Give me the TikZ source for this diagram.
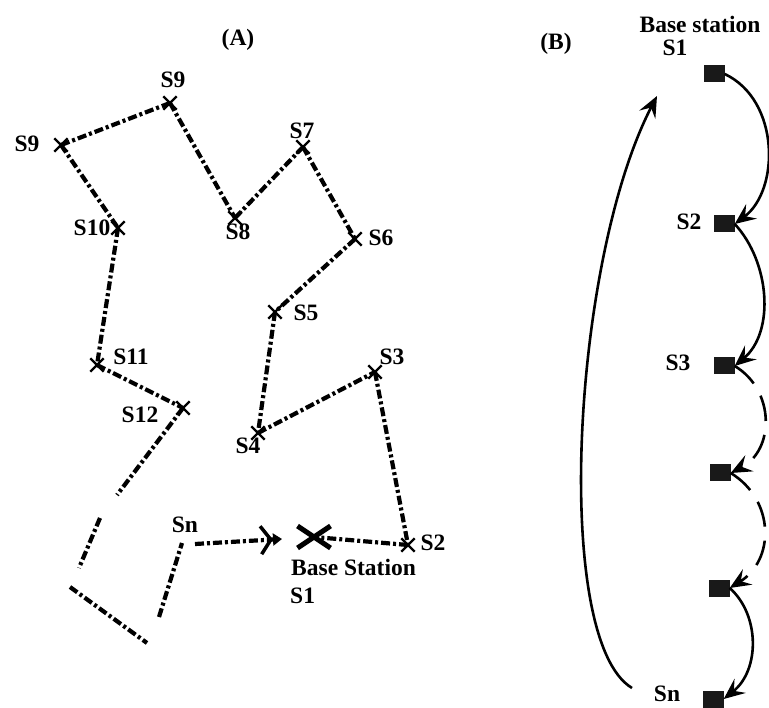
\documentclass[tikz,border=0pt]{standalone}
\usepackage{fontspec}
\setmainfont{Liberation Serif}
\usetikzlibrary{arrows.meta,shapes.misc}
\begin{document}
\begin{tikzpicture}[x=1pt,y=-1pt,
  lbl/.style={font=\fontsize{23.5}{25}\selectfont\bfseries, inner sep=0pt},
  xmark/.style={draw, cross out, minimum size=11pt, inner sep=0pt, line width=2.4pt},
  route/.style={line width=4.2pt, dash pattern=on 9pt off 3pt on 3pt off 3pt},
  sq/.style={fill=black!90, minimum width=21pt, minimum height=17pt, inner sep=0pt},
  link/.style={line width=2.6pt, -{Stealth[length=21pt,width=18pt,inset=8pt]}},
  dlink/.style={link, dash pattern=on 26pt off 14pt},
]
\useasboundingbox (0,0) rectangle (769,708);
% ---------------- Panel A ----------------
\node[lbl] (tA) at (238,40) {(A)};
\node[xmark] (p9t) at (170,103) {};
\node[xmark] (p9l) at (61,145) {};
\node[xmark] (p10) at (118,228) {};
\node[xmark] (p8)  at (235,218) {};
\node[xmark] (p7)  at (303,147) {};
\node[xmark] (p6)  at (355,239) {};
\node[xmark] (p5)  at (275,312) {};
\node[xmark] (p11) at (97,365) {};
\node[xmark] (p12) at (183,408) {};
\node[xmark] (p3)  at (375,372) {};
\node[xmark] (p4)  at (258,433) {};
\node[xmark] (p2)  at (408,545) {};
\node[draw, cross out, minimum width=28pt, minimum height=17pt, inner sep=0pt, line width=5pt] (bs) at (314,537) {};

\node[lbl] (l9t) at (173,80) {S9};
\node[lbl] (l9l) at (27,144) {S9};
\node[lbl] (l10) at (92,228) {S10};
\node[lbl] (l8)  at (238,232) {S8};
\node[lbl] (l7)  at (302,131) {S7};
\node[lbl] (l6)  at (381,238) {S6};
\node[lbl] (l5)  at (306,313) {S5};
\node[lbl] (l11) at (131,357) {S11};
\node[lbl] (l12) at (140,415) {S12};
\node[lbl] (l3)  at (392,357) {S3};
\node[lbl] (l4)  at (248,446) {S4};
\node[lbl] (l2)  at (433,543) {S2};
\node[lbl] (lsn) at (185,525) {Sn};
\node[lbl, anchor=west] (lbs) at (291,567) {Base Station};
\node[lbl, anchor=west] (ls1) at (290,596) {S1};

\draw[route] (p9l.center) -- (p9t.center);
\draw[route] (p9t.center) -- (p8.center);
\draw[route] (p8.center) -- (p7.center);
\draw[route] (p7.center) -- (p6.center);
\draw[route] (p6.center) -- (p5.center);
\draw[route] (p5.center) -- (p4.center);
\draw[route] (p4.center) -- (p3.center);
\draw[route] (p3.center) -- (p2.center);
\draw[route] (p2.center) -- (bs.center);
\draw[route] (p9l.center) -- (p10.center);
\draw[route] (p10.center) -- (p11.center);
\draw[route] (p11.center) -- (p12.center);
\coordinate (e1) at (117,495);
\draw[route] (p12.center) -- (e1);
\coordinate (f1) at (100,518);
\coordinate (f2) at (79,568);
\draw[route] (f1) -- (f2);
\coordinate (g1) at (70,587);
\coordinate (g2) at (147,643);
\draw[route] (g1) -- (g2);
\coordinate (h1) at (159,617);
\coordinate (h2) at (182,543);
\draw[route] (h1) -- (h2);
\coordinate (sna) at (195,544);
\coordinate (snb) at (282,539);
\draw[route, -{Straight Barb[length=10pt,width=28pt,line width=3.5pt] Triangle[length=9pt,width=12pt]}] (sna) -- (snb);

% ---------------- Panel B ----------------
\node[lbl] (tB) at (556,44) {(B)};
\node[lbl] (bst) at (700,24) {Base station};
\node[lbl] (bs1) at (675,48) {S1};
\node[sq] (b1) at (714,74) {};
\node[sq] (b2) at (724,224) {};
\node[sq] (b3) at (724,366) {};
\node[sq] (b4) at (720,473) {};
\node[sq] (b5) at (719,588) {};
\node[sq] (bn) at (713,699) {};
\node[lbl] (lb2) at (689,222) {S2};
\node[lbl] (lb3) at (678,363) {S3};
\node[lbl] (lbn) at (667,694) {Sn};

\draw[link] (b1.east) .. controls (780,100) and (780,190) .. (b2.east);
\draw[link] (b2.east) .. controls (770,262) and (775,332) .. (b3.east);
\draw[dlink] (b3.east) .. controls (775,390) and (775,450) .. (b4.east);
\draw[dlink] (b4.east) .. controls (775,500) and (775,560) .. (b5.east);
\draw[link] (b5.east) .. controls (760,615) and (760,670) .. (bn.east);
\coordinate (bstart) at (632,688);
\coordinate (bend) at (657,96);
\draw[link] (bstart) .. controls (552,640) and (572,260) .. (bend);
\end{tikzpicture}
\end{document}
